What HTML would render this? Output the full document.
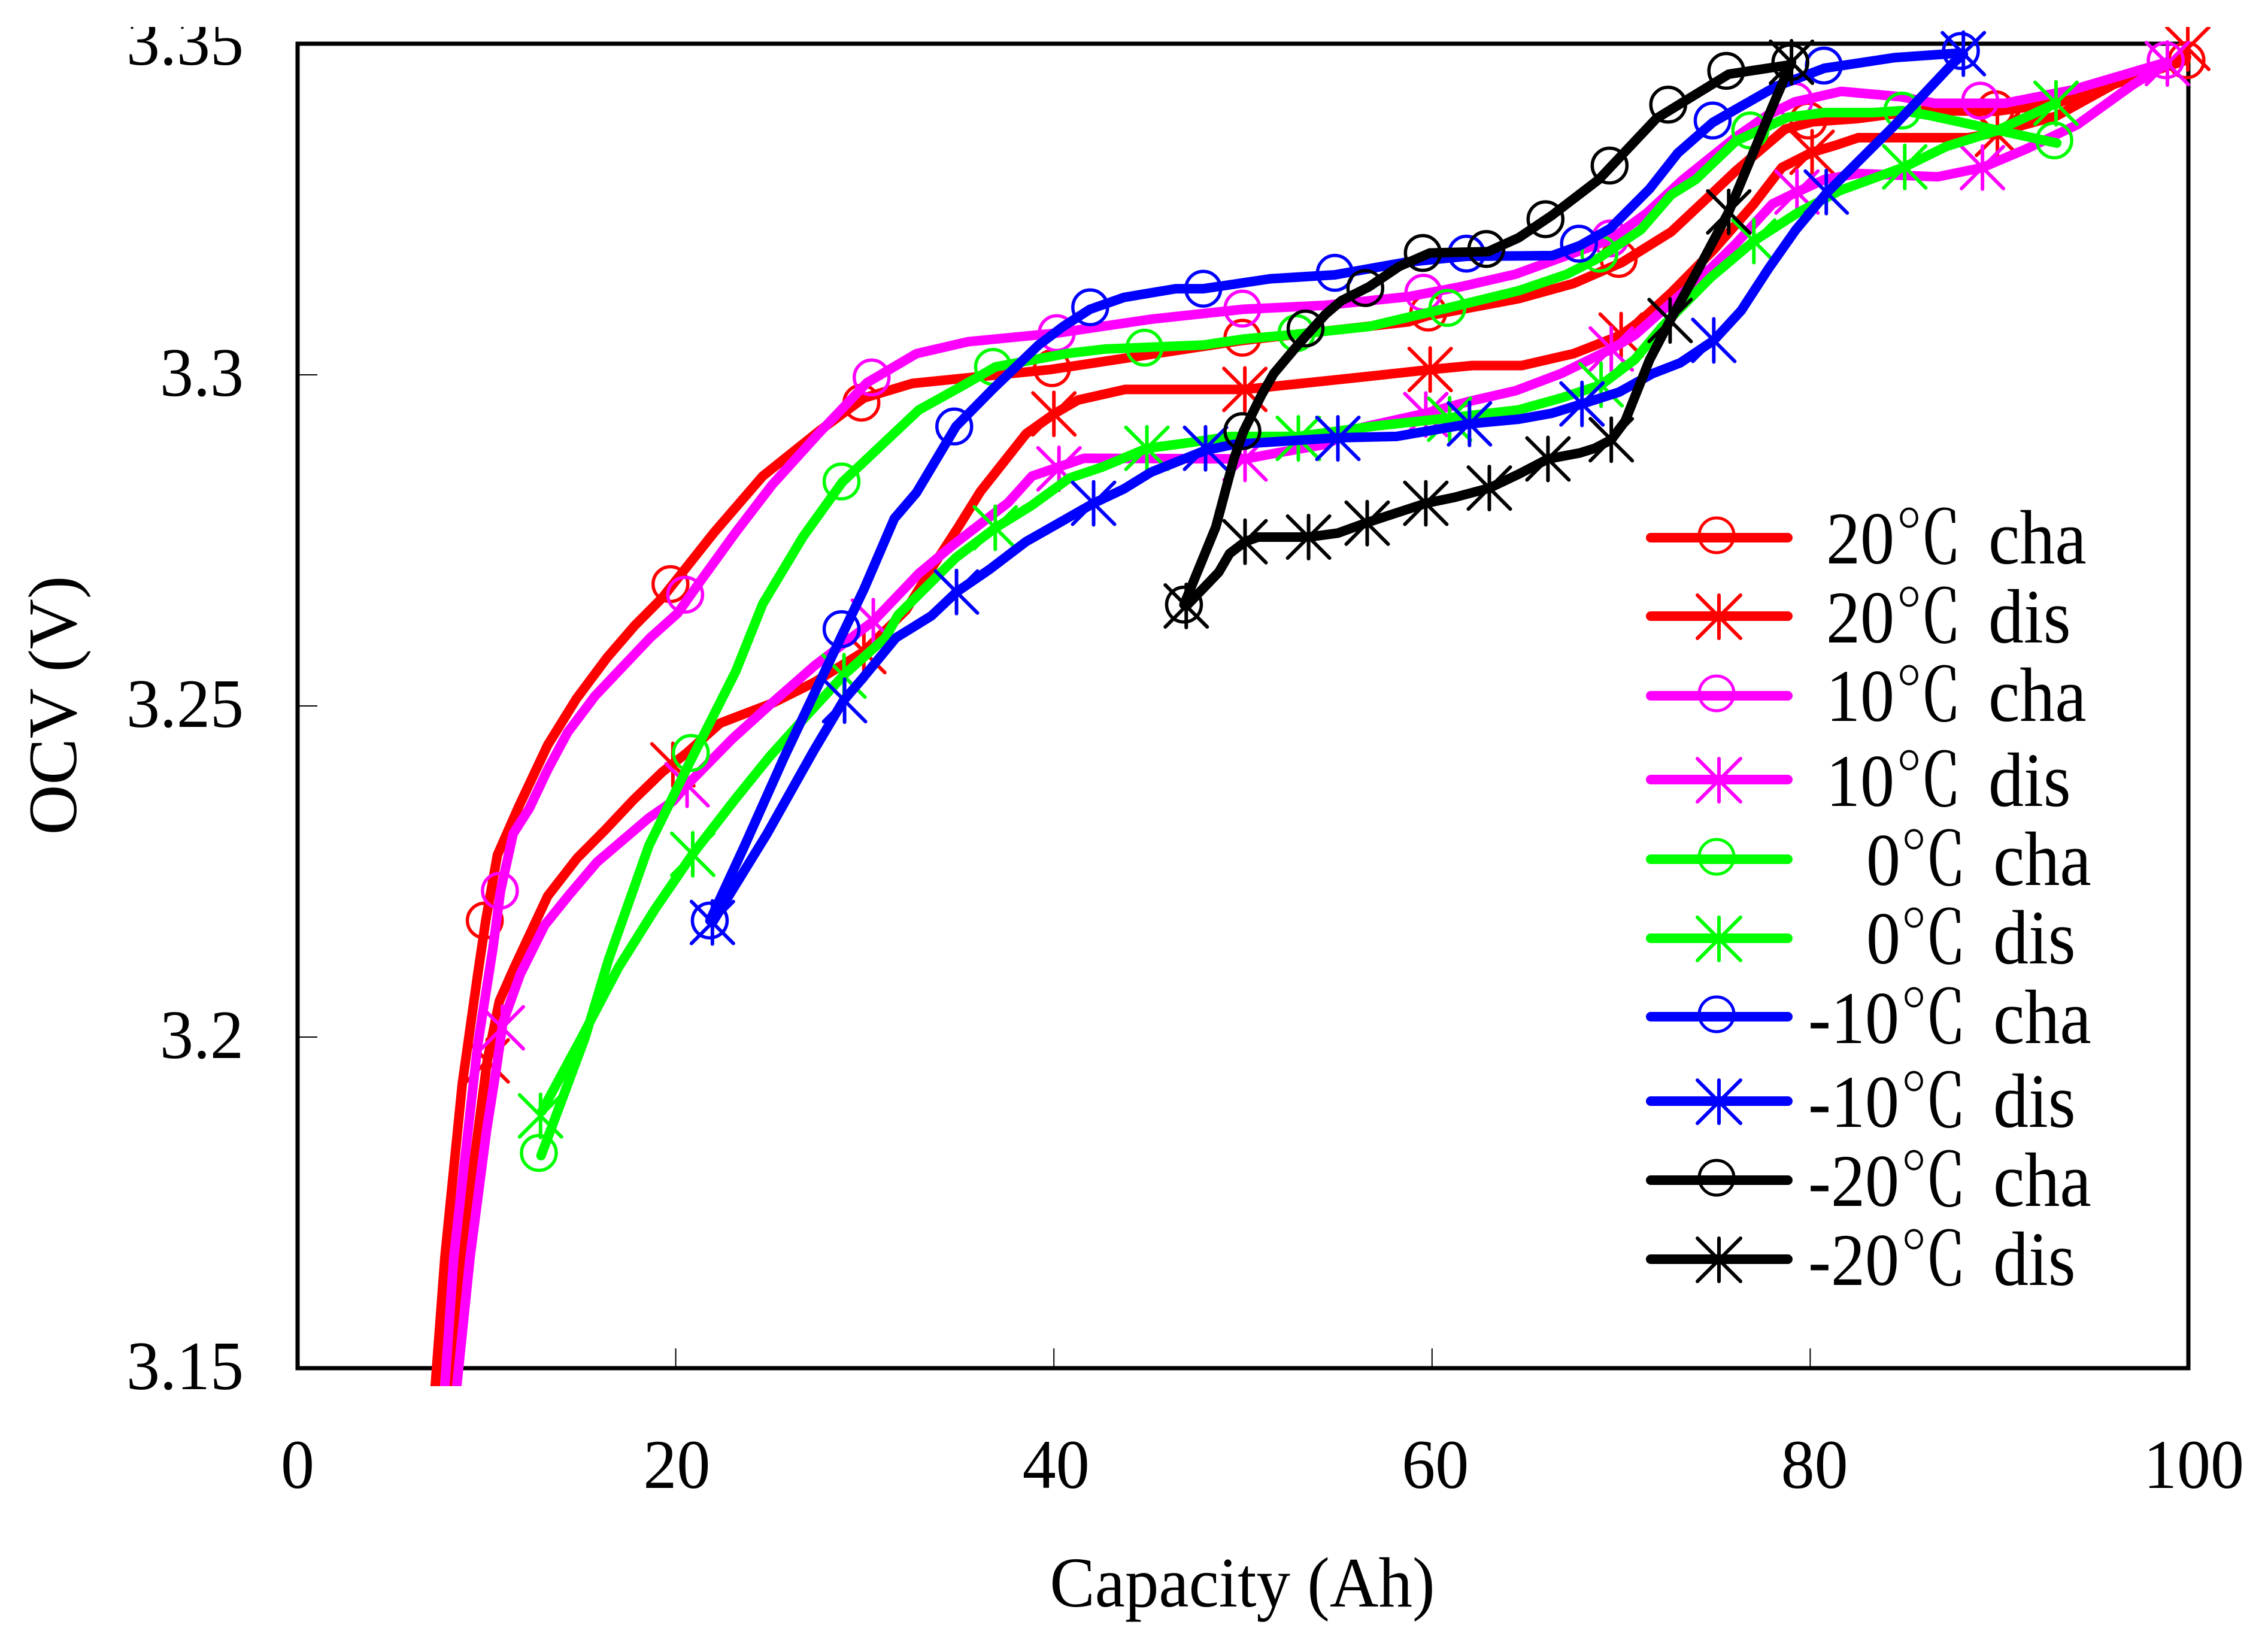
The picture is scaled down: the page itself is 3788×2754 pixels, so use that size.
<!DOCTYPE html>
<html lang="en">
<head>
<meta charset="utf-8">
<title>OCV vs Capacity</title>
<style>
html,body{margin:0;padding:0;background:#fff;}
svg{display:block;}
text{font-family:"Liberation Serif","Noto Serif CJK SC",serif;fill:#000;}
.legend-text{font-size:114px;}
.deg{font-family:"Noto Serif CJK SC","Liberation Serif",serif;font-size:112px;}
.word{font-size:118px;}
</style>
</head>
<body>
<svg id="chart" xmlns="http://www.w3.org/2000/svg" width="3788" height="2754" viewBox="0 0 3788 2754">
  <defs>
    <clipPath id="series-clip"><rect x="0" y="45" width="3788" height="2270"/></clipPath>
    <clipPath id="top-clip"><rect x="0" y="45" width="3788" height="2709"/></clipPath>
  </defs>
  <rect x="0" y="0" width="3788" height="2754" fill="#fff"/>
  <rect x="497" y="73" width="3158" height="2212" fill="none" stroke="#000" stroke-width="7"/>
  <g id="ticks"></g>
  <g id="y-labels" clip-path="url(#top-clip)"></g>
  <g id="x-labels"></g>
  <text transform="translate(127,1178) rotate(-90)" text-anchor="middle" font-size="116">OCV (V)</text>
  <text transform="translate(2075,2683) scale(1,1.05)" text-anchor="middle" font-size="113">Capacity (Ah)</text>
  <g id="series" clip-path="url(#series-clip)"></g>

  <g fill="none" stroke-linecap="round">
    <g stroke="#ff0000">
      <line x1="2757" x2="2986" y1="898" y2="898" stroke-width="16"/>
      <circle cx="2867" cy="894" r="29" stroke-width="5"/>
      <text class="legend-text" stroke="none" transform="translate(0,941) scale(1,1.09)"><tspan x="3050">20</tspan><tspan class="deg" x="3165">℃</tspan><tspan class="word" x="3321">cha</tspan></text>
    </g>
    <g stroke="#ff0000">
      <line x1="2757" x2="2986" y1="1029" y2="1029" stroke-width="16"/>
      <path d="M2871 994V1066M2835 994L2907 1066M2835 1066L2907 994" stroke-width="6"/>
      <text class="legend-text" stroke="none" transform="translate(0,1073) scale(1,1.09)"><tspan x="3050">20</tspan><tspan class="deg" x="3165">℃</tspan><tspan class="word" x="3321">dis</tspan></text>
    </g>
    <g stroke="#ff00ff">
      <line x1="2757" x2="2986" y1="1162" y2="1162" stroke-width="16"/>
      <circle cx="2867" cy="1158" r="29" stroke-width="5"/>
      <text class="legend-text" stroke="none" transform="translate(0,1204) scale(1,1.09)"><tspan x="3050">10</tspan><tspan class="deg" x="3165">℃</tspan><tspan class="word" x="3321">cha</tspan></text>
    </g>
    <g stroke="#ff00ff">
      <line x1="2757" x2="2986" y1="1302" y2="1302" stroke-width="16"/>
      <path d="M2871 1267V1339M2835 1267L2907 1339M2835 1339L2907 1267" stroke-width="6"/>
      <text class="legend-text" stroke="none" transform="translate(0,1346) scale(1,1.09)"><tspan x="3050">10</tspan><tspan class="deg" x="3165">℃</tspan><tspan class="word" x="3321">dis</tspan></text>
    </g>
    <g stroke="#00ff00">
      <line x1="2757" x2="2986" y1="1435" y2="1435" stroke-width="16"/>
      <circle cx="2867" cy="1431" r="29" stroke-width="5"/>
      <text class="legend-text" stroke="none" transform="translate(0,1478) scale(1,1.09)"><tspan x="3117">0</tspan><tspan class="deg" x="3173">℃</tspan><tspan class="word" x="3329">cha</tspan></text>
    </g>
    <g stroke="#00ff00">
      <line x1="2757" x2="2986" y1="1567" y2="1567" stroke-width="16"/>
      <path d="M2871 1532V1604M2835 1532L2907 1604M2835 1604L2907 1532" stroke-width="6"/>
      <text class="legend-text" stroke="none" transform="translate(0,1609) scale(1,1.09)"><tspan x="3117">0</tspan><tspan class="deg" x="3173">℃</tspan><tspan class="word" x="3329">dis</tspan></text>
    </g>
    <g stroke="#0000ff">
      <line x1="2757" x2="2986" y1="1698" y2="1698" stroke-width="16"/>
      <circle cx="2867" cy="1694" r="29" stroke-width="5"/>
      <text class="legend-text" stroke="none" transform="translate(0,1742) scale(1,1.09)"><tspan x="3020">-10</tspan><tspan class="deg" x="3173">℃</tspan><tspan class="word" x="3329">cha</tspan></text>
    </g>
    <g stroke="#0000ff">
      <line x1="2757" x2="2986" y1="1839" y2="1839" stroke-width="16"/>
      <path d="M2871 1804V1876M2835 1804L2907 1876M2835 1876L2907 1804" stroke-width="6"/>
      <text class="legend-text" stroke="none" transform="translate(0,1882) scale(1,1.09)"><tspan x="3020">-10</tspan><tspan class="deg" x="3173">℃</tspan><tspan class="word" x="3329">dis</tspan></text>
    </g>
    <g stroke="#000000">
      <line x1="2757" x2="2986" y1="1971" y2="1971" stroke-width="16"/>
      <circle cx="2867" cy="1967" r="29" stroke-width="5"/>
      <text class="legend-text" stroke="none" transform="translate(0,2014) scale(1,1.09)"><tspan x="3020">-20</tspan><tspan class="deg" x="3173">℃</tspan><tspan class="word" x="3329">cha</tspan></text>
    </g>
    <g stroke="#000000">
      <line x1="2757" x2="2986" y1="2103" y2="2103" stroke-width="16"/>
      <path d="M2871 2068V2140M2835 2068L2907 2140M2835 2140L2907 2068" stroke-width="6"/>
      <text class="legend-text" stroke="none" transform="translate(0,2146) scale(1,1.09)"><tspan x="3020">-20</tspan><tspan class="deg" x="3173">℃</tspan><tspan class="word" x="3329">dis</tspan></text>
    </g>
  </g>
</svg>
<script>
const xTicks = [0, 20, 40, 60, 80, 100];
const xTickLabels = ['0', '20', '40', '60', '80', '100'];
const yTicks = [3.15, 3.2, 3.25, 3.3, 3.35];
const yTickLabels = ['3.15', '3.2', '3.25', '3.3', '3.35'];

const p20ChaCap = [7.28,7.79,8.71,9.53,9.94,10.57,11.68,13.23,14.75,16.37,17.82,19.28,22.03,24.6,27.67,29.95,32.51,39.82,43.53,49.98,58.75,59.74,64.58,67.49,70.06,72.65,74.74,76.07,78.67,80.12,82.53,85.76,89.81,93.04,99.87];
const p20ChaOcv = [3.1473,3.1667,3.1929,3.2095,3.2174,3.2275,3.2347,3.2441,3.2511,3.2573,3.2621,3.2663,3.2762,3.2847,3.2917,3.2965,3.2987,3.3008,3.3024,3.3052,3.308,3.3089,3.3115,3.3138,3.317,3.3216,3.3272,3.3308,3.3371,3.3382,3.3387,3.3399,3.3398,3.341,3.3475];
const p20ChaMarkCap = [9.9,19.72,29.82,39.9,49.97,59.8,69.87,79.9,89.8,99.9];
const p20ChaMarkOcv = [3.2176,3.2684,3.2958,3.301,3.3056,3.3094,3.3175,3.3384,3.3401,3.3475];

const p20DisCap = [7.95,8.67,10.03,10.67,11.46,13.23,14.78,16.24,17.76,19.28,20.58,22.35,23.81,25.1,27.35,29.95,32.19,33.65,34.92,36.12,38.53,40.01,41.28,43.78,50.11,57.08,59.93,62.14,64.74,67.49,69.99,71.04,72.65,74.9,77.02,78.5,80.09,81.39,82.53,88.35,89.87,93.04,96.27,99.9];
const p20DisOcv = [3.1473,3.1667,3.1964,3.2054,3.2105,3.2213,3.227,3.2312,3.2358,3.24,3.2429,3.2474,3.249,3.2504,3.2536,3.2582,3.2645,3.2713,3.2769,3.2824,3.2911,3.2941,3.2962,3.2978,3.2978,3.2999,3.3008,3.3014,3.3014,3.3032,3.306,3.3082,3.3124,3.3189,3.3258,3.3313,3.3336,3.3347,3.3358,3.3358,3.3366,3.3391,3.3442,3.348];
const p20DisMarkCap = [10.03,19.85,29.95,40.0,50.1,59.9,70.0,80.1,89.9,99.97];
const p20DisMarkOcv = [3.1964,3.2411,3.2582,3.2941,3.2978,3.3008,3.306,3.3336,3.3363,3.3493];

const p10ChaCap = [7.79,8.26,9.53,10.32,10.73,11.4,12.25,13.23,14.28,15.73,17.19,18.65,20.1,21.37,23.17,25.1,27.51,30.11,32.73,35.46,40.15,45.15,50.02,54.35,58.75,61.51,64.42,67.3,69.42,71.35,73.28,76.07,77.68,79.17,81.64,84.77,86.58,90.28,93.83,98.83];
const p10ChaOcv = [3.1473,3.1667,3.1989,3.2132,3.222,3.2307,3.2345,3.2404,3.246,3.2515,3.2559,3.2603,3.264,3.2691,3.2762,3.2834,3.291,3.2988,3.3032,3.305,3.3063,3.3084,3.3099,3.3105,3.3118,3.3133,3.3152,3.3182,3.3204,3.3244,3.3295,3.3359,3.3391,3.3412,3.3428,3.342,3.341,3.341,3.343,3.3472];
const p10ChaMarkCap = [10.7,20.5,30.36,40.15,49.97,59.54,69.43,79.17,88.99,98.8];
const p10ChaMarkOcv = [3.2221,3.2668,3.2996,3.3063,3.31,3.3124,3.3206,3.3414,3.3414,3.3475];

const p10DisCap = [8.42,9.12,10.0,10.51,10.86,11.78,13.07,14.37,15.83,18.58,19.85,20.61,22.98,24.95,27.35,30.45,32.86,34.66,37.58,38.84,40.27,41.6,50.11,51.79,54.35,56.35,59.67,61.98,64.42,66.83,69.48,70.72,72.18,74.74,76.07,78.0,79.3,80.75,82.53,86.74,89.11,91.42,94.14,97.06,98.89];
const p10DisOcv = [3.1473,3.1667,3.186,3.1952,3.2022,3.2095,3.2169,3.2215,3.2264,3.2331,3.2356,3.2381,3.245,3.2501,3.2561,3.2628,3.27,3.2743,3.2807,3.2847,3.2861,3.2874,3.2873,3.2882,3.2895,3.2921,3.2942,3.296,3.2976,3.3002,3.3039,3.306,3.3097,3.3161,3.3198,3.3258,3.3276,3.3295,3.3304,3.3299,3.3313,3.3341,3.3378,3.3438,3.347];
const p10DisMarkCap = [10.83,20.6,30.45,40.27,50.11,59.67,69.48,79.3,89.11,98.89];
const p10DisMarkOcv = [3.2014,3.2381,3.2628,3.2858,3.2873,3.294,3.3039,3.3276,3.3313,3.347];

const z0ChaCap = [12.88,15.19,16.46,18.58,20.73,23.17,24.6,26.72,28.81,32.86,35.14,36.91,40.65,42.74,47.9,50.02,52.74,56.67,58.75,60.84,64.58,67.14,68.85,71.04,72.65,73.95,76.07,76.83,78.82,80.75,83.35,84.87,86.42,89.65,93.04];
const z0ChaOcv = [3.1821,3.1998,3.2118,3.2289,3.2414,3.2552,3.2654,3.2755,3.2838,3.2947,3.2983,3.3012,3.3032,3.3039,3.3045,3.3054,3.3061,3.3073,3.3087,3.3101,3.3127,3.3152,3.3177,3.3219,3.3272,3.3295,3.3353,3.3363,3.3389,3.3396,3.3396,3.3399,3.3391,3.3371,3.335];
const z0ChaMarkCap = [12.76,20.8,28.77,36.78,44.79,52.83,60.81,68.85,76.83,84.87,92.91];
const z0ChaMarkOcv = [3.1825,3.2429,3.2839,3.3012,3.3041,3.3063,3.3101,3.3183,3.3369,3.3399,3.3354];

const z0DisCap = [12.92,15.0,16.97,18.9,20.89,23.11,24.95,26.56,28.9,31.09,31.75,34.82,36.91,38.84,40.81,42.58,44.92,47.26,49.35,52.93,57.08,60.94,64.58,66.83,68.95,70.72,72.18,74.74,77.02,79.3,81.55,85.0,87.21,89.81,93.0];
const z0DisOcv = [3.1888,3.1998,3.2105,3.2193,3.2276,3.2358,3.2423,3.2474,3.2547,3.2603,3.2637,3.2724,3.2769,3.2803,3.2844,3.2861,3.2889,3.2898,3.2907,3.2907,3.2923,3.2935,3.2947,3.2965,3.2985,3.3023,3.3073,3.3147,3.3202,3.3244,3.3278,3.3314,3.3345,3.3368,3.341];
const z0DisMarkCap = [12.85,20.9,28.9,36.9,44.92,52.93,60.93,68.94,77.02,85.0,93.0];
const z0DisMarkOcv = [3.1881,3.2276,3.2545,3.2769,3.2889,3.2904,3.2933,3.2985,3.3202,3.3314,3.341];

const m10ChaCap = [21.81,23.58,25.74,28.81,29.95,31.56,32.73,34.82,36.75,39.19,40.49,41.91,43.72,46.44,47.9,51.44,54.86,58.6,61.82,66.35,67.81,69.42,71.51,73.0,74.84,76.07,78.16,80.75,84.46,87.97];
const m10ChaOcv = [3.2176,3.2285,3.2423,3.2608,3.2676,3.2783,3.2822,3.2922,3.2978,3.3045,3.3073,3.3099,3.3117,3.313,3.313,3.3145,3.3151,3.317,3.3179,3.318,3.3195,3.3221,3.3281,3.3335,3.3381,3.3401,3.3435,3.3463,3.3479,3.3486];
const m10ChaMarkCap = [21.8,28.77,34.73,41.92,47.9,54.86,61.82,67.77,74.84,80.72,87.97];
const m10ChaMarkOcv = [3.2176,3.2616,3.2922,3.3102,3.313,3.3154,3.3183,3.3198,3.3384,3.3467,3.3489];

const m10DisCap = [21.94,24.83,27.29,28.87,29.89,31.65,33.52,34.85,36.59,38.52,42.1,43.72,45.14,48.02,49.51,55.02,58.12,61.98,64.58,66.35,67.93,69.9,71.67,73.12,74.9,76.35,77.81,79.24,80.85,84.4,87.53,88.1];
const m10DisOcv = [3.2173,3.2307,3.2432,3.2508,3.2542,3.2603,3.2636,3.2672,3.2706,3.2748,3.2806,3.2828,3.2853,3.2886,3.2895,3.2905,3.2907,3.2926,3.2933,3.2942,3.2956,3.2974,3.3002,3.3018,3.3052,3.3097,3.3161,3.3219,3.3274,3.3375,3.347,3.3484];
const m10DisMarkCap = [21.94,28.93,34.85,42.1,48.02,55.02,61.98,67.93,74.9,80.85,88.1];
const m10DisMarkOcv = [3.2173,3.2508,3.2672,3.2806,3.2889,3.2904,3.2926,3.2956,3.3052,3.3276,3.3485];

const m20ChaCap = [46.88,48.56,49.51,50.02,50.97,51.63,52.9,54.35,55.21,56.67,58.28,59.89,62.96,64.58,66.35,68.82,71.86,75.69,78.92];
const m20ChaOcv = [3.2653,3.277,3.2872,3.2914,3.2969,3.3002,3.3045,3.3091,3.3112,3.3133,3.3164,3.3184,3.3186,3.3207,3.3241,3.3295,3.3387,3.3454,3.3468];
const m20ChaMarkCap = [46.88,49.97,53.31,56.47,59.51,62.87,66.0,69.39,72.49,75.56,78.95];
const m20ChaMarkOcv = [3.2653,3.2915,3.307,3.3131,3.3184,3.319,3.3235,3.3316,3.3408,3.3459,3.3472];

const m20DisCap = [47.01,48.72,49.29,50.11,50.81,53.47,55.02,56.57,59.67,61.19,63.03,64.58,66.13,67.81,68.6,69.48,70.21,71.51,72.59,74.11,75.69,78.0,79.01];
const m20DisOcv = [3.2651,3.2702,3.273,3.2748,3.2755,3.2755,3.2761,3.2777,3.2806,3.2815,3.2829,3.285,3.2873,3.2882,3.2889,3.2902,3.293,3.3023,3.3082,3.3161,3.3246,3.3405,3.3472];
const m20DisMarkCap = [47.0,50.11,53.47,56.57,59.67,63.03,66.13,69.48,72.59,75.69,79.01];
const m20DisMarkOcv = [3.2651,3.2748,3.2755,3.2776,3.2806,3.2829,3.2873,3.2902,3.3082,3.3246,3.3472];

const SVGNS = 'http://www.w3.org/2000/svg';
const PLOT_LEFT = 497, PLOT_WIDTH = 3158, PLOT_TOP = 73, PLOT_HEIGHT = 2212;
const X_MIN = 0, X_MAX = 100, Y_MIN = 3.15, Y_MAX = 3.35;

function xScale(v) { return PLOT_LEFT + (v - X_MIN) / (X_MAX - X_MIN) * PLOT_WIDTH; }
function yScale(v) { return PLOT_TOP + (Y_MAX - v) / (Y_MAX - Y_MIN) * PLOT_HEIGHT; }
function make(tag) { return document.createElementNS(SVGNS, tag); }

const tickLayer = document.getElementById('ticks');
const yLabelLayer = document.getElementById('y-labels');
const xLabelLayer = document.getElementById('x-labels');

yTicks.forEach(function (v, i) {
  const y = yScale(v);
  if (i > 0 && i < yTicks.length - 1) {
    const t = make('line');
    
    
    t.setAttribute('x1', PLOT_LEFT); t.setAttribute('x2', PLOT_LEFT + 33);
    t.setAttribute('y1', y); t.setAttribute('y2', y);
    t.setAttribute('stroke', '#000'); t.setAttribute('stroke-width', '2');
    tickLayer.appendChild(t);
  }
  const label = make('text');
  
  
  label.setAttribute('text-anchor', 'end');
  label.setAttribute('font-size', '112');
  label.setAttribute('transform', 'translate(407,' + (y + 35) + ') scale(1,1.03)');
  label.textContent = yTickLabels[i];
  yLabelLayer.appendChild(label);
});

xTicks.forEach(function (v, i) {
  const x = xScale(v);
  if (i > 0 && i < xTicks.length - 1) {
    const t = make('line');
    
    
    t.setAttribute('x1', x); t.setAttribute('x2', x);
    t.setAttribute('y1', PLOT_TOP + PLOT_HEIGHT); t.setAttribute('y2', PLOT_TOP + PLOT_HEIGHT - 33);
    t.setAttribute('stroke', '#000'); t.setAttribute('stroke-width', '2');
    tickLayer.appendChild(t);
  }
  const label = make('text');
  
  
  label.setAttribute('text-anchor', 'middle');
  label.setAttribute('font-size', '112');
  label.setAttribute('transform', 'translate(' + (x + v * 0.09) + ',2485) scale(1,1.04)');
  label.textContent = xTickLabels[i];
  xLabelLayer.appendChild(label);
});

const seriesLayer = document.getElementById('series');

function drawSeries(name, color, marker, caps, ocvs, markCaps, markOcvs) {
  const group = make('g');
  
  
  const line = make('polyline');
  
  
  line.setAttribute('points', caps.map(function (c, i) { return xScale(c) + ',' + yScale(ocvs[i]); }).join(' '));
  line.setAttribute('fill', 'none');
  line.setAttribute('stroke', color);
  line.setAttribute('stroke-width', '16');
  line.setAttribute('stroke-linejoin', 'round');
  line.setAttribute('stroke-linecap', 'round');
  group.appendChild(line);
  markCaps.forEach(function (c, i) {
    const cx = xScale(c), cy = yScale(markOcvs[i]);
    let m;
    if (marker === 'circle') {
      m = make('circle');
      m.setAttribute('cx', cx); m.setAttribute('cy', cy); m.setAttribute('r', '29');
      m.setAttribute('stroke-width', '5.5');
    } else {
      m = make('path');
      m.setAttribute('d', 'M' + cx + ' ' + (cy - 36) + 'V' + (cy + 36) +
        'M' + (cx - 35) + ' ' + (cy - 35) + 'L' + (cx + 35) + ' ' + (cy + 35) +
        'M' + (cx - 35) + ' ' + (cy + 35) + 'L' + (cx + 35) + ' ' + (cy - 35));
      m.setAttribute('stroke-width', '6');
      m.setAttribute('stroke-linecap', 'round');
    }
    
    
    m.setAttribute('fill', 'none');
    m.setAttribute('stroke', color);
    group.appendChild(m);
  });
  seriesLayer.appendChild(group);
}

drawSeries('series-20c-cha', '#ff0000', 'circle', p20ChaCap, p20ChaOcv, p20ChaMarkCap, p20ChaMarkOcv);
drawSeries('series-20c-dis', '#ff0000', 'star', p20DisCap, p20DisOcv, p20DisMarkCap, p20DisMarkOcv);
drawSeries('series-10c-cha', '#ff00ff', 'circle', p10ChaCap, p10ChaOcv, p10ChaMarkCap, p10ChaMarkOcv);
drawSeries('series-10c-dis', '#ff00ff', 'star', p10DisCap, p10DisOcv, p10DisMarkCap, p10DisMarkOcv);
drawSeries('series-0c-cha', '#00ff00', 'circle', z0ChaCap, z0ChaOcv, z0ChaMarkCap, z0ChaMarkOcv);
drawSeries('series-0c-dis', '#00ff00', 'star', z0DisCap, z0DisOcv, z0DisMarkCap, z0DisMarkOcv);
drawSeries('series-minus10c-cha', '#0000ff', 'circle', m10ChaCap, m10ChaOcv, m10ChaMarkCap, m10ChaMarkOcv);
drawSeries('series-minus10c-dis', '#0000ff', 'star', m10DisCap, m10DisOcv, m10DisMarkCap, m10DisMarkOcv);
drawSeries('series-minus20c-cha', '#000000', 'circle', m20ChaCap, m20ChaOcv, m20ChaMarkCap, m20ChaMarkOcv);
drawSeries('series-minus20c-dis', '#000000', 'star', m20DisCap, m20DisOcv, m20DisMarkCap, m20DisMarkOcv);
</script>
</body>
</html>
